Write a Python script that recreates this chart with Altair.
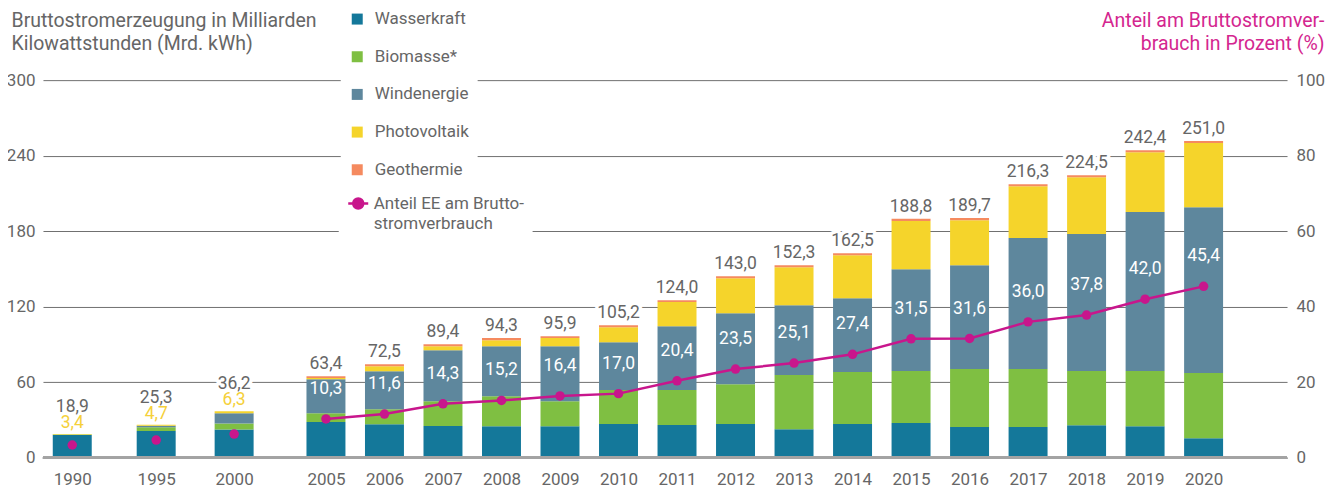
import altair as alt
import pandas as pd

years = [1990, 1995, 2000, 2005, 2006, 2007, 2008, 2009, 2010, 2011, 2012,
         2013, 2014, 2015, 2016, 2017, 2018, 2019, 2020]
wasserkraft = [18.1, 21.3, 22.6, 28.5, 26.6, 25.3, 25.0, 25.0, 26.8, 26.0, 26.8,
               22.8, 26.8, 27.6, 24.4, 24.4, 25.9, 25.1, 15.6]
biomasse = [0.4, 2.9, 4.6, 6.9, 11.9, 19.6, 23.9, 19.9, 27.0, 27.8, 31.7,
            42.9, 41.3, 41.3, 46.1, 46.1, 43.0, 43.8, 51.7]
windenergie = [0.1, 1.2, 8.2, 27.0, 30.2, 40.5, 39.7, 43.7, 38.1, 50.8, 56.4,
               55.5, 58.7, 80.9, 82.5, 104.1, 108.9, 126.4, 131.8]
photovoltaik = [0.3, 0.8, 1.6, 1.0, 4.0, 3.2, 4.8, 6.5, 11.9, 19.1, 27.8,
                30.2, 34.1, 38.4, 35.8, 41.1, 45.1, 47.5, 50.9]
geothermie = [0.0, 0.0, 0.0, 1.4, 1.6, 1.6, 1.7, 1.5, 1.6, 1.5, 1.6,
              1.6, 1.6, 1.6, 1.6, 1.6, 1.6, 1.6, 1.6]
gesamt = [18.9, 25.3, 36.2, 63.4, 72.5, 89.4, 94.3, 95.9, 105.2, 124.0, 143.0,
          152.3, 162.5, 188.8, 189.7, 216.3, 224.5, 242.4, 251.0]
anteil = [3.4, 4.7, 6.3, 10.3, 11.6, 14.3, 15.2, 16.4, 17.0, 20.4, 23.5,
          25.1, 27.4, 31.5, 31.6, 36.0, 37.8, 42.0, 45.4]

sources = ["Wasserkraft", "Biomasse*", "Windenergie", "Photovoltaik", "Geothermie"]
colors = ["#14789a", "#7fbf42", "#5e879d", "#f5d42b", "#f58a5f"]
series_values = [wasserkraft, biomasse, windenergie, photovoltaik, geothermie]
line_label = "Anteil EE am Brutto-stromverbrauch"
magenta = "#c8168c"
grey = "#666666"
FONT = "Roboto"

rows = []
for i, (s, vals) in enumerate(zip(sources, series_values)):
    for y, v in zip(years, vals):
        rows.append({"Jahr": y, "Quelle": s, "Wert": v, "idx": i})
long_df = pd.DataFrame(rows)

wide_df = pd.DataFrame({
    "Jahr": years,
    "top": [sum(v) for v in zip(*series_values)],
    "gesamt": gesamt,
    "anteil": anteil,
    "serie": line_label,
})

# piecewise year scale: the early five-year steps are drawn closer together
x_scale = alt.Scale(domain=[1988, 1990, 1995, 2000, 2005, 2020, 2022],
                    range=[0, 29.3, 113.3, 191.3, 283.2, 1161.5, 1245],
                    zero=False, nice=False)
x_axis = alt.Axis(values=years, format="d", labelFontSize=17, labelColor=grey,
                  labelFont=FONT, domain=False, ticks=False, grid=False,
                  labelPadding=14, title=None, labelOverlap=False, labelFlush=False)
X = alt.X("Jahr:Q", scale=x_scale, axis=x_axis)

left_scale = alt.Scale(domain=[0, 300], nice=False, zero=True)
right_scale = alt.Scale(domain=[0, 100], nice=False, zero=True)

TFS = 19.5
left_axis = alt.Axis(values=[0, 60, 120, 180, 240, 300], grid=True, gridColor="#6f6f6f",
                     gridWidth=1, domain=False, ticks=False, labelFontSize=17,
                     labelColor=grey, labelFont=FONT, labelPadding=8,
                     title=["Bruttostromerzeugung in Milliarden", "Kilowattstunden (Mrd. kWh)"],
                     titleAngle=0, titleAlign="left", titleBaseline="alphabetic",
                     titleX=-32, titleY=-54, titleFontSize=TFS, titleFontWeight="normal",
                     titleColor=grey, titleFont=FONT, titleLineHeight=23.3)
right_axis = alt.Axis(orient="right", values=[0, 20, 40, 60, 80, 100], grid=False,
                      domain=False, ticks=False, labelFontSize=17, labelColor=grey,
                      labelFont=FONT, labelPadding=9,
                      title=["Anteil am Bruttostromver-", "brauch in Prozent (%)"],
                      titleAngle=0, titleAlign="right", titleBaseline="alphabetic",
                      titleX=37, titleY=-54, titleFontSize=TFS, titleFontWeight="normal",
                      titleColor="#d4268f", titleFont=FONT, titleLineHeight=23.3)

YL = lambda f: alt.Y(f, scale=left_scale, axis=left_axis)
YR = lambda f: alt.Y(f, scale=right_scale, axis=right_axis)

fmt = "replace(format(datum.{f}, '.1f'), '.', ',')"

bars = alt.Chart(long_df).mark_bar(size=39).encode(
    x=X,
    y=alt.Y("Wert:Q", stack="zero", scale=left_scale, axis=left_axis),
    color=alt.Color("Quelle:N",
                    scale=alt.Scale(domain=sources, range=colors),
                    legend=alt.Legend(orient="none", legendX=298, legendY=-77.6,
                                      direction="vertical", title=None,
                                      symbolType="square", symbolSize=121,
                                      symbolStrokeWidth=0, labelFontSize=17,
                                      labelColor=grey, labelFont=FONT,
                                      rowPadding=19.7, labelOffset=9, padding=8,
                                      fillColor="white")),
    order=alt.Order("idx:Q", sort="ascending"),
)

base_w = alt.Chart(wide_df).transform_calculate(
    gtxt=fmt.format(f="gesamt"), atxt=fmt.format(f="anteil"))

late_f = alt.datum.Jahr >= 2005
early_f = alt.datum.Jahr < 2005

def total_text(filt, dy, halo):
    kw = dict(stroke="white", strokeWidth=7, color="white", strokeJoin="round") if halo \
        else dict(color=grey)
    return base_w.transform_filter(filt).mark_text(
        baseline="alphabetic", dy=dy, fontSize=17.5, font=FONT, **kw).encode(
        x=X, y=YL("top:Q"), text="gtxt:N")

tot_halo_late = total_text(late_f, -7, True)
tot_late = total_text(late_f, -7, False)
tot_halo_early = total_text(early_f, -22, True)
tot_early = total_text(early_f, -22, False)
pct_early = base_w.transform_filter(early_f).mark_text(
    baseline="alphabetic", dy=-6, fontSize=17.5, font=FONT, color="#f5d03a").encode(
    x=X, y=YL("top:Q"), text="atxt:N")

zero_rule = alt.Chart(wide_df).mark_rule(color="#a3a3a3", strokeWidth=2.5).encode(
    y=alt.datum(0, scale=left_scale, axis=left_axis))

left_group = alt.layer(bars, zero_rule, tot_halo_late, tot_late, tot_halo_early,
                       tot_early, pct_early)

sym_path = "M-1,0L1,0M0.5,0A0.5,0.5,0,1,1,-0.5,0A0.5,0.5,0,1,1,0.5,0Z"

line = base_w.transform_filter(late_f).mark_line(strokeWidth=2.5).encode(
    x=X,
    y=YR("anteil:Q"),
    stroke=alt.Stroke("serie:N", scale=alt.Scale(domain=[line_label], range=[magenta]),
                      legend=alt.Legend(orient="none", legendX=296, legendY=104,
                                        title=None, symbolType=sym_path,
                                        symbolSize=400, symbolStrokeWidth=2.5,
                                        symbolFillColor=magenta,
                                        symbolStrokeColor=magenta,
                                        labelExpr="['Anteil EE am Brutto-', 'stromverbrauch']",
                                        labelFontSize=17, labelColor=grey,
                                        labelFont=FONT, labelOffset=4, padding=8,
                                        labelLimit=400, fillColor="white")),
)
dots = base_w.mark_circle(size=90, opacity=1, color=magenta).encode(
    x=X, y=YR("anteil:Q"))
pct_late = base_w.transform_filter(late_f).mark_text(
    baseline="middle", dy=-30, fontSize=17.5, font=FONT, color="white").encode(
    x=X, y=YR("anteil:Q"), text="atxt:N")

right_group = alt.layer(line, dots, pct_late)

chart = alt.layer(left_group, right_group).resolve_scale(
    y="independent", color="independent", stroke="independent"
).properties(
    width=1245, height=378,
    autosize=alt.AutoSizeParams(type="none"),
    padding={"left": 35, "top": 72, "right": 45, "bottom": 32},
).configure(
    font=FONT, style={"guide-label": {"lineHeight": 20.6}}
).configure_view(stroke=None)

chart.save("out.html", embed_options={"renderer": "svg", "actions": False})
